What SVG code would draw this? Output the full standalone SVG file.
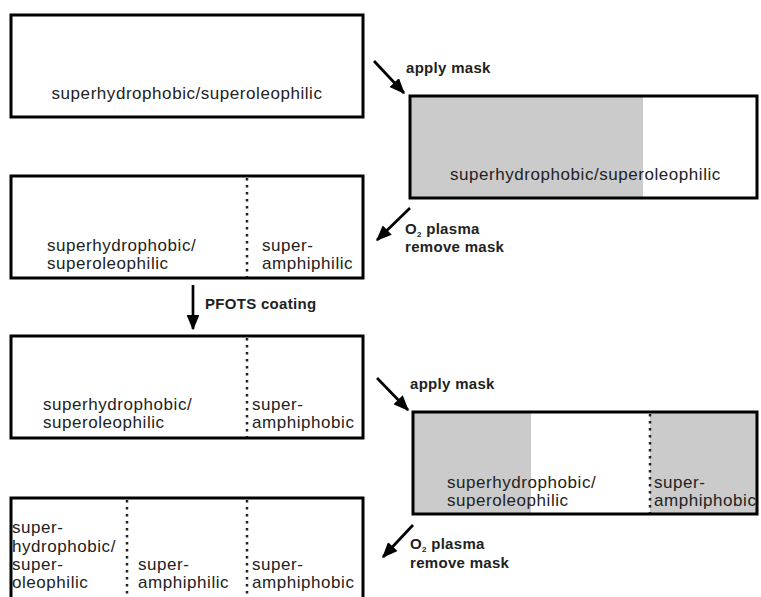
<svg xmlns="http://www.w3.org/2000/svg" width="761" height="597" viewBox="0 0 761 597">
<style>
.box{fill:none;stroke:#000;stroke-width:3}
.t{font-family:"Liberation Sans",Arial,sans-serif;font-size:17px;letter-spacing:0.55px;fill:#222}
.lb{font-family:"Liberation Sans",Arial,sans-serif;font-size:15px;font-weight:bold;letter-spacing:0.3px;fill:#222}
.dot{stroke:#222;stroke-width:2.5;stroke-dasharray:2.5 4.5}
.gray{fill:#cbcbcb}
.arr{stroke:#000;stroke-width:2.7;fill:none;marker-end:url(#ah)}
.sub{font-size:8px}
</style>
<defs>
<marker id="ah" viewBox="0 0 12 10" refX="11" refY="5" markerWidth="5.8" markerHeight="4.8" markerUnits="strokeWidth" orient="auto">
<path d="M0,0 L12,5 L0,10 z" fill="#000"/>
</marker>
</defs>
<rect width="761" height="597" fill="#fff"/>
<g id="node1">
<rect class="box" x="11" y="15" width="352" height="102" fill="#fff"/>
<text class="t" x="187" y="99" text-anchor="middle">superhydrophobic/superoleophilic</text>
</g>
<g id="node2">
<rect x="410" y="96" width="233" height="102" class="gray"/>
<rect class="box" x="410" y="96" width="347" height="102"/>
<text class="t" x="450" y="180">superhydrophobic/superoleophilic</text>
</g>
<g id="node3">
<rect class="box" x="11" y="176" width="352" height="102"/>
<line class="dot" x1="247" y1="178" x2="247" y2="277"/>
<text class="t" x="47" y="251">superhydrophobic/</text>
<text class="t" x="47" y="269">superoleophilic</text>
<text class="t" x="262" y="251">super-</text>
<text class="t" x="262" y="269">amphiphilic</text>
</g>
<g id="node4">
<rect class="box" x="11" y="336" width="352" height="102"/>
<line class="dot" x1="247" y1="338" x2="247" y2="437"/>
<text class="t" x="43" y="410">superhydrophobic/</text>
<text class="t" x="43" y="428">superoleophilic</text>
<text class="t" x="252" y="410">super-</text>
<text class="t" x="252" y="428">amphiphobic</text>
</g>
<g id="node5">
<rect x="413" y="412" width="118" height="102" class="gray"/>
<rect x="650" y="412" width="107" height="102" class="gray"/>
<rect class="box" x="413" y="412" width="344" height="102"/>
<line class="dot" x1="650" y1="414" x2="650" y2="513"/>
<text class="t" x="447" y="488">superhydrophobic/</text>
<text class="t" x="447" y="506">superoleophilic</text>
<text class="t" x="654" y="488">super-</text>
<text class="t" x="654" y="506">amphiphobic</text>
</g>
<g id="node6">
<rect class="box" x="11" y="498" width="352" height="120"/>
<line class="dot" x1="127" y1="500" x2="127" y2="597"/>
<line class="dot" x1="247" y1="500" x2="247" y2="597"/>
<text class="t" x="12" y="533">super-</text>
<text class="t" x="12" y="552">hydrophobic/</text>
<text class="t" x="12" y="570">super-</text>
<text class="t" x="12" y="588">oleophilic</text>
<text class="t" x="138" y="570">super-</text>
<text class="t" x="138" y="588">amphiphilic</text>
<text class="t" x="252" y="570">super-</text>
<text class="t" x="252" y="588">amphiphobic</text>
</g>
<g id="connectors">
<line class="arr" x1="374" y1="61" x2="404" y2="93"/>
<text class="lb" x="406" y="73">apply mask</text>
<line class="arr" x1="410" y1="208" x2="377" y2="240"/>
<text class="lb" x="405" y="234">O<tspan class="sub" dy="3">2</tspan><tspan dy="-3"> plasma</tspan></text>
<text class="lb" x="405" y="252">remove mask</text>
<line class="arr" x1="193" y1="285" x2="193" y2="329"/>
<text class="lb" x="205" y="309">PFOTS coating</text>
<line class="arr" x1="377" y1="378" x2="408" y2="410"/>
<text class="lb" x="410" y="389">apply mask</text>
<line class="arr" x1="413" y1="525" x2="383" y2="557"/>
<text class="lb" x="410" y="549">O<tspan class="sub" dy="3">2</tspan><tspan dy="-3"> plasma</tspan></text>
<text class="lb" x="410" y="568">remove mask</text>
</g>
</svg>
